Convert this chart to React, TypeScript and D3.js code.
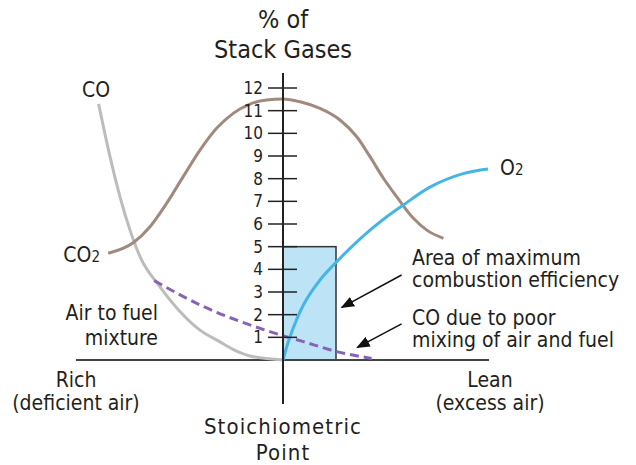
import React from "react";
import * as d3 from "d3";

// x: air/fuel position, 0 = stoichiometric point; y: % of stack gases
const coX = [-9.22, -8.65, -8.15, -7.65, -7.15, -6.15, -4.15, -3.15, -2.5, -1.65, 0];
const coY = [11.3, 8.97, 7.2, 5.73, 4.56, 3.23, 1.32, 0.8, 0.47, 0.18, 0];

const co2X = [-8.74, -7.49, -6.65, -5.82, -4.99, -4.15, -3.32, -2.49, -1.65, -0.82, 0, 0.85, 1.85, 2.85, 3.69, 4.35, 5.02, 5.69, 6.52, 7.19, 8.02];
const co2Y = [4.71, 5.17, 5.88, 6.91, 8.09, 9.26, 10.22, 10.88, 11.29, 11.47, 11.51, 11.39, 11.1, 10.59, 9.85, 8.97, 8.02, 7.2, 6.25, 5.73, 5.37];

const o2X = [0, 0.35, 1.02, 1.85, 2.69, 3.52, 4.35, 5.19, 6.02, 7.35, 9.0, 10.25];
const o2Y = [0, 1.03, 2.43, 3.53, 4.34, 5.07, 5.73, 6.32, 6.84, 7.63, 8.22, 8.43];

const mixX = [-6.44, -4.15, -0.65, 1.02, 2.69, 4.43];
const mixY = [3.5, 2.43, 1.25, 0.81, 0.37, 0.07];

const yTicks = [1, 2, 3, 4, 5, 6, 7, 8, 9, 10, 11, 12];
const maxEffX = [0, 2.65];
const maxEffTop = 5;

const arrows = [
  { from: [5.93, 3.75], to: [2.94, 2.32] },
  { from: [5.93, 1.59], to: [3.72, 0.56] },
];

const FONT = "'Liberation Sans Narrow', 'DejaVu Sans Condensed', 'Arial Narrow', sans-serif";
const TXT = "#231f20";

export default function App() {
  const x = d3.scaleLinear().domain([-10, 10]).range([83, 483]);
  const y = d3.scaleLinear().domain([0, 12]).range([360, 88]);

  const zip = (xs: number[], ys: number[]) => xs.map((v, i) => [v, ys[i]] as [number, number]);
  const smooth = d3
    .line<[number, number]>()
    .x((d) => x(d[0]))
    .y((d) => y(d[1]))
    .curve(d3.curveMonotoneX);
  const arc = d3
    .line<[number, number]>()
    .x((d) => x(d[0]))
    .y((d) => y(d[1]))
    .curve(d3.curveCatmullRom.alpha(0.5));

  const x0 = x(0);

  return (
    <svg
      width={636}
      height={465}
      style={{ position: "absolute", left: 0, top: 0, background: "#fff" }}
      fontFamily={FONT}
      fill={TXT}
    >
      <defs>
        <marker id="arr" viewBox="0 0 10 10" refX="9" refY="5" markerWidth="9" markerHeight="9" orient="auto">
          <path d="M0,1 L10,5 L0,9 Z" fill="#111" />
        </marker>
      </defs>

      {/* title */}
      <text x={x0} y={28} textAnchor="middle" fontSize={25}>% of</text>
      <text x={x0} y={58} textAnchor="middle" fontSize={25}>Stack Gases</text>

      {/* max efficiency box */}
      <rect
        x={x(maxEffX[0])}
        y={y(maxEffTop)}
        width={x(maxEffX[1]) - x(maxEffX[0])}
        height={y(0) - y(maxEffTop)}
        fill="#bde4f6"
        stroke="#333"
        strokeWidth={1.5}
      />

      {/* baseline */}
      <line x1={x(-10.35)} x2={x(10.3)} y1={y(0)} y2={y(0)} stroke="#444" strokeWidth={2} />

      {/* curves */}
      <path d={smooth(zip(coX, coY)) ?? ""} fill="none" stroke="#bcbcbc" strokeWidth={3} />
      <path d={smooth(zip(co2X, co2Y)) ?? ""} fill="none" stroke="#a08a7e" strokeWidth={3} />
      <path
        d={smooth(zip(mixX, mixY)) ?? ""}
        fill="none"
        stroke="#8762b6"
        strokeWidth={3}
        strokeDasharray="9 5"
      />
      <path d={arc(zip(o2X, o2Y)) ?? ""} fill="none" stroke="#46b5e6" strokeWidth={3} />

      {/* vertical axis */}
      <line x1={x0} x2={x0} y1={73} y2={404} stroke="#222" strokeWidth={2} />
      {yTicks.map((t) => (
        <g key={t}>
          <line x1={x0 - 15} x2={x0 + 14} y1={y(t)} y2={y(t)} stroke="#222" strokeWidth={1.5} />
          <text x={x0 - 20} y={y(t) + 6} textAnchor="end" fontSize={17}>
            {t}
          </text>
        </g>
      ))}

      {/* arrows */}
      {arrows.map((a, i) => (
        <line
          key={i}
          x1={x(a.from[0])}
          y1={y(a.from[1])}
          x2={x(a.to[0])}
          y2={y(a.to[1])}
          stroke="#111"
          strokeWidth={1.5}
          markerEnd="url(#arr)"
        />
      ))}

      {/* labels */}
      <g fontSize={21}>
        <text x={96} y={97} textAnchor="middle">CO</text>
        <text x={100} y={262} textAnchor="end">
          CO<tspan fontSize={15}>2</tspan>
        </text>
        <text x={500} y={175}>
          O<tspan fontSize={15}>2</tspan>
        </text>
        <text x={158} y={320} textAnchor="end">Air to fuel</text>
        <text x={158} y={345} textAnchor="end">mixture</text>
        <text x={412} y={265}>Area of maximum</text>
        <text x={412} y={287}>combustion efficiency</text>
        <text x={412} y={325}>CO due to poor</text>
        <text x={412} y={347}>mixing of air and fuel</text>
        <text x={76} y={387} textAnchor="middle">Rich</text>
        <text x={76} y={410} textAnchor="middle">(deficient air)</text>
        <text x={490} y={387} textAnchor="middle">Lean</text>
        <text x={490} y={410} textAnchor="middle">(excess air)</text>
      </g>
      <text x={x0} y={434} textAnchor="middle" fontSize={22} letterSpacing={1.1}>Stoichiometric</text>
      <text x={x0} y={460} textAnchor="middle" fontSize={22} letterSpacing={1.1}>Point</text>
    </svg>
  );
}
